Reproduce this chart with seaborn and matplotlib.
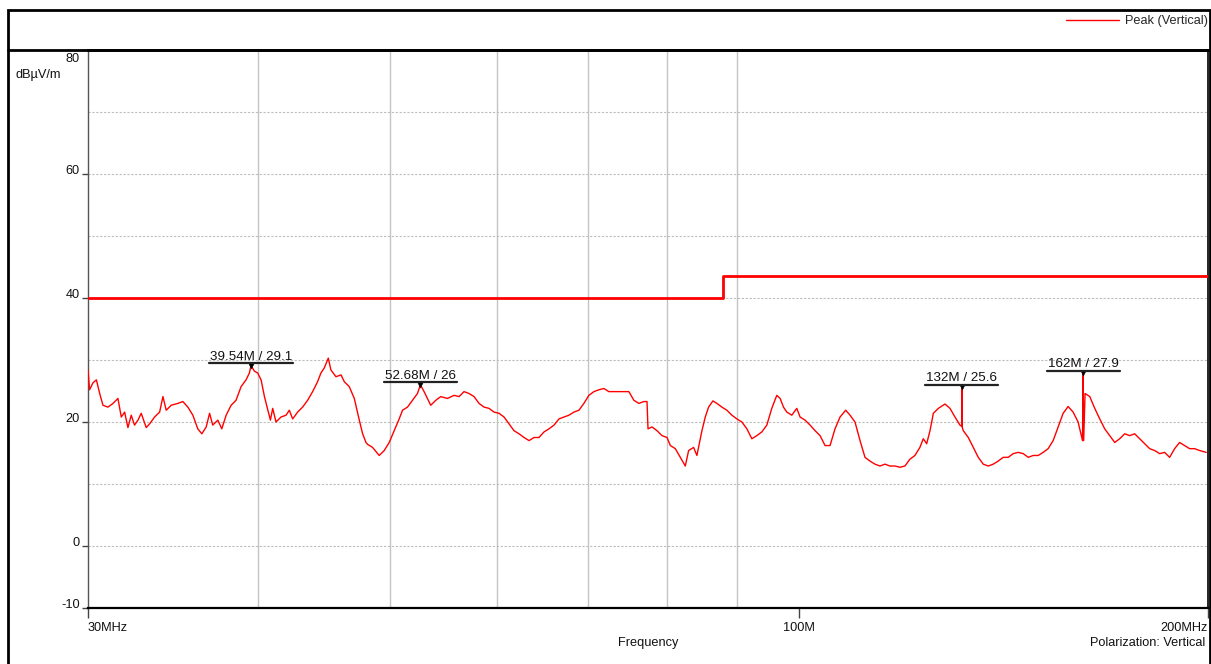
import matplotlib
matplotlib.use("Agg")
import matplotlib.pyplot as plt
import matplotlib.font_manager as fm
from matplotlib.lines import Line2D
from matplotlib.patches import Rectangle
from matplotlib.ticker import FixedLocator, NullFormatter
from matplotlib.transforms import ScaledTranslation, IdentityTransform
import pandas as pd
import seaborn as sns

# ---------------- data ----------------
freq_mhz = [
    30.00, 30.08, 30.25, 30.43, 30.60, 30.77, 31.03, 31.30, 31.56, 31.74,
    31.92, 32.10, 32.28, 32.46, 32.65, 32.83, 33.11, 33.30, 33.58, 33.87,
    34.06, 34.25, 34.54, 34.93, 35.23, 35.53, 35.83, 36.13, 36.38, 36.65,
    36.86, 37.06, 37.38, 37.63, 37.91, 38.23, 38.55, 38.88, 39.21, 39.43,
    39.54, 39.77, 39.99, 40.22, 40.45, 40.63, 40.86, 41.02, 41.25, 41.60,
    41.96, 42.19, 42.43, 42.79, 43.15, 43.52, 43.89, 44.26, 44.51, 44.76,
    45.07, 45.27, 45.66, 46.05, 46.31, 46.70, 47.10, 47.50, 47.77, 48.04,
    48.17, 48.58, 49.13, 49.55, 49.97, 50.39, 50.82, 51.11, 51.54, 51.98,
    52.42, 52.68, 53.01, 53.31, 53.61, 54.07, 54.53, 55.15, 55.77, 56.25,
    56.72, 57.20, 57.69, 58.18, 58.68, 59.17, 59.68, 60.19, 60.70, 61.21,
    61.73, 62.26, 62.79, 63.32, 63.86, 64.40, 64.95, 65.50, 66.06, 66.62,
    67.18, 67.75, 68.33, 68.91, 69.49, 70.08, 70.68, 71.28, 71.88, 72.49,
    73.11, 73.73, 74.36, 74.99, 75.63, 76.27, 76.92,
    77.33, 77.46, 77.99, 78.65, 79.32, 80.00, 80.45, 81.13, 81.81, 82.51,
    82.98, 83.68, 84.15, 84.87, 85.35, 85.83, 86.46, 87.05, 87.79, 88.53,
    89.28, 90.04, 90.81, 91.58, 92.36, 93.14, 93.93, 94.73, 95.53, 96.34,
    96.89, 97.44, 97.99, 98.82, 99.66, 100.22, 101.07, 101.93, 102.80, 103.67,
    104.55, 105.44, 106.33, 107.24, 108.27, 109.07, 109.99, 110.93, 111.87, 112.82,
    113.77, 114.74, 115.72, 116.70, 117.69, 118.69, 119.70, 120.71, 121.74, 122.77,
    123.47,
    124.19, 124.89, 125.60, 126.67, 128.10, 129.19, 130.29, 131.39, 131.80, 131.84,
    131.88, 132.13, 133.26, 134.39, 135.53, 136.68, 137.84, 139.01, 140.19, 141.38,
    142.58, 143.79, 145.01, 146.25, 147.49, 148.74, 150.00, 151.28, 152.56, 153.86,
    155.16, 156.48, 157.81, 159.15, 160.50, 161.14, 161.70, 161.86, 162.02, 162.40,
    163.70, 165.09, 166.49, 167.90, 169.33, 170.77, 172.22, 173.68, 175.16, 176.64,
    178.14, 179.65, 181.18, 182.72, 184.27, 185.84, 187.41, 189.01, 190.61, 192.23,
    193.86, 195.51, 197.17, 199.40,
]
level_dbuv = [
    28.4, 25.2, 26.3, 26.8, 24.6, 22.7, 22.4, 23.0, 23.8, 20.8,
    21.6, 19.1, 21.1, 19.5, 20.3, 21.4, 19.1, 19.7, 20.8, 21.6,
    24.1, 21.9, 22.7, 23.0, 23.3, 22.4, 21.1, 18.9, 18.1, 19.2,
    21.4, 19.5, 20.3, 18.9, 21.1, 22.7, 23.5, 25.7, 26.8, 27.9,
    29.1, 28.2, 27.9, 26.8, 24.1, 22.4, 20.3, 22.2, 20.0, 20.8,
    21.1, 21.9, 20.5, 21.6, 22.4, 23.5, 24.9, 26.5, 27.9, 28.7,
    30.3, 28.4, 27.3, 27.6, 26.5, 25.7, 23.8, 20.3, 18.1, 16.7,
    16.4, 15.9, 14.6, 15.4, 16.7, 18.6, 20.5, 21.9, 22.4, 23.5,
    24.6, 26.0, 24.9, 23.8, 22.7, 23.5, 24.1, 23.8, 24.3, 24.1,
    24.9, 24.6, 24.1, 23.0, 22.4, 22.2, 21.6, 21.4, 20.8, 19.7,
    18.6, 18.1, 17.5, 17.0, 17.5, 17.5, 18.4, 18.9, 19.5, 20.5,
    20.8, 21.1, 21.6, 21.9, 23.0, 24.3, 24.9, 25.2, 25.4, 24.9,
    24.9, 24.9, 24.9, 24.9, 23.5, 23.0, 23.3,
    23.3, 18.9, 19.2, 18.6, 17.8, 17.5, 16.2, 15.7, 14.3, 12.9,
    15.4, 15.9, 14.6, 18.6, 20.8, 22.4, 23.4, 23.0, 22.4, 21.9,
    21.1, 20.5, 20.0, 18.9, 17.3, 17.8, 18.4, 19.5, 22.2, 24.3,
    23.8, 22.4, 21.6, 21.1, 22.2, 20.8, 20.3, 19.5, 18.6, 17.8,
    16.2, 16.2, 18.9, 20.8, 21.9, 21.1, 20.0, 17.0, 14.3, 13.7,
    13.2, 12.9, 13.2, 12.9, 12.9, 12.7, 12.9, 14.0, 14.6, 15.9,
    17.3,
    16.5, 18.6, 21.4, 22.2, 22.9, 22.2, 20.8, 19.5, 19.3, 25.6,
    19.2, 18.6, 17.5, 15.9, 14.3, 13.2, 12.9, 13.2, 13.7, 14.3,
    14.3, 14.9, 15.1, 14.9, 14.3, 14.6, 14.6, 15.1, 15.7, 17.0,
    19.2, 21.4, 22.5, 21.6, 20.0, 18.4, 17.0, 27.9, 17.0, 24.6,
    24.1, 22.2, 20.5, 18.9, 17.8, 16.7, 17.3, 18.1, 17.8, 18.1,
    17.3, 16.5, 15.7, 15.4, 14.9, 15.1, 14.3, 15.7, 16.7, 16.2,
    15.7, 15.7, 15.4, 15.1,
]

limit_freq = [30, 88, 88, 200]
limit_level = [40, 40, 43.5, 43.5]

marker_freq = [39.54, 52.68, 131.84, 161.86]
marker_level = [29.1, 26.0, 25.6, 27.9]
marker_text = ["39.54M / 29.1", "52.68M / 26", "132M / 25.6", "162M / 27.9"]

x_major = [30, 100, 200]
x_major_labels = ["30MHz", "100M", "200MHz"]
x_grid = [40, 50, 60, 70, 80, 90]
y_major = [-10, 0, 20, 40, 60, 80]
y_grid = [10, 30, 50, 70]

trace_name = "Peak (Vertical)"

# ---------------- style ----------------
sns.set_theme(style="white")
available = {f.name for f in fm.fontManager.ttflist}
fams = [f for f in ["Liberation Sans Narrow", "Liberation Sans", "DejaVu Sans"] if f in available]
plt.rcParams["font.family"] = fams
FS = 9.2

W, H = 1211, 664
fig = plt.figure(figsize=(W / 100, H / 100), dpi=100)
fig.patch.set_facecolor("white")
ax = fig.add_axes([88 / W, 1 - 608 / H, 1120 / W, 558 / H])
ax.set_facecolor("white")
ax.set_xscale("log")

df = pd.DataFrame({"Frequency": freq_mhz, "Level": level_dbuv})
sns.lineplot(data=df, x="Frequency", y="Level", color="#ff0000", lw=1.0,
             sort=False, estimator=None, ax=ax, label=trace_name, zorder=3)
sns.lineplot(x=limit_freq, y=limit_level, color="#ff0000", lw=2.0,
             sort=False, estimator=None, ax=ax, zorder=3)

ax.set_xlim(30, 200)
ax.set_ylim(-10, 80)

# ticks
ax.xaxis.set_major_locator(FixedLocator(x_major))
ax.set_xticklabels(x_major_labels)
ax.xaxis.set_minor_locator(FixedLocator(x_grid))
ax.xaxis.set_minor_formatter(NullFormatter())
ax.yaxis.set_major_locator(FixedLocator(y_major))
ax.set_yticklabels([str(v) for v in y_major])
ax.yaxis.set_minor_locator(FixedLocator(y_grid))

ax.tick_params(axis="x", which="major", bottom=True, length=7, width=1,
               color="#444444", pad=3, labelsize=FS, labelcolor="#111111")
ax.tick_params(axis="x", which="minor", bottom=False, length=0)
ax.tick_params(axis="y", which="major", left=True, length=4, width=1,
               color="#444444", pad=2, labelsize=FS, labelcolor="#111111")
ax.tick_params(axis="y", which="minor", left=False, length=0)

xl = ax.get_xticklabels()
xl[0].set_ha("left")
xl[2].set_ha("right")
for i, lab in enumerate(ax.get_yticklabels()):
    dy = -8 if y_major[i] == 80 else 4
    lab.set_transform(lab.get_transform() + ScaledTranslation(0, dy / 100, fig.dpi_scale_trans))

# grid
ax.grid(False)
ax.grid(True, which="minor", axis="x", color="#c4c4c4", lw=1.0, ls="-")
ax.grid(True, which="both", axis="y", color="#bdbdbd", lw=0.8, ls=(0, (2, 1.5)))
ax.set_axisbelow(True)

# spines
for s in ["left", "bottom", "right", "top"]:
    ax.spines[s].set_visible(True)
ax.spines["left"].set_color("#555555"); ax.spines["left"].set_linewidth(1.0)
ax.spines["bottom"].set_color("black"); ax.spines["bottom"].set_linewidth(1.6)
ax.spines["right"].set_color("black"); ax.spines["right"].set_linewidth(1.2)
ax.spines["top"].set_color("black"); ax.spines["top"].set_linewidth(2.0)

# axis labels
ax.set_xlabel("Frequency", fontsize=FS, color="#111111")
ax.xaxis.set_label_coords(0.5, -(643 - 608) / 558)
ax.xaxis.label.set_va("center")
ax.set_ylabel("dBµV/m", fontsize=FS, rotation=0, color="#111111")
ax.yaxis.set_label_coords((15 - 88) / 1120, (608 - 75) / 558)
ax.yaxis.label.set_ha("left")
ax.yaxis.label.set_va("center")

fig.text(1205 / W, 1 - 643 / H, "Polarization: Vertical", ha="right", va="center",
         fontsize=FS, color="#111111")

# legend in header band
handles, labels = ax.get_legend_handles_labels()
ax.legend(handles[:1], [trace_name], loc="upper right",
          bbox_to_anchor=(1208 / W, 1 - 15 / H), bbox_transform=fig.transFigure,
          frameon=False, fontsize=FS, handlelength=4.1, handletextpad=0.5,
          borderpad=0, borderaxespad=0)

# frame + header separator
fig.add_artist(Rectangle((8 / W, -0.05), (1209.5 - 8) / W, 1 - 10 / H + 0.05,
                         fill=False, edgecolor="black", lw=2, transform=fig.transFigure))
fig.add_artist(Line2D([8 / W, 1209.5 / W], [1 - 50 / H, 1 - 50 / H], color="black", lw=2,
                      transform=fig.transFigure))

# markers with underlined labels
sns.scatterplot(x=marker_freq, y=marker_level, marker="v", color="black", s=14,
                edgecolor="black", ax=ax, zorder=5, legend=False)
texts = []
for f, v, t in zip(marker_freq, marker_level, marker_text):
    texts.append(ax.annotate(t, xy=(f, v), xytext=(0, 6), textcoords="offset pixels",
                             ha="center", va="baseline", fontsize=9.6, color="#111111",
                             zorder=6))
fig.canvas.draw()
renderer = fig.canvas.get_renderer()
for f, v, t in zip(marker_freq, marker_level, texts):
    bb = t.get_window_extent(renderer)
    px, py = ax.transData.transform((f, v))
    fig.add_artist(Line2D([bb.x0 - 1, bb.x1 + 1], [py + 2.5, py + 2.5], color="#222222",
                          lw=1.6, transform=IdentityTransform()))

fig.savefig("out.png", dpi=100, facecolor="white")
